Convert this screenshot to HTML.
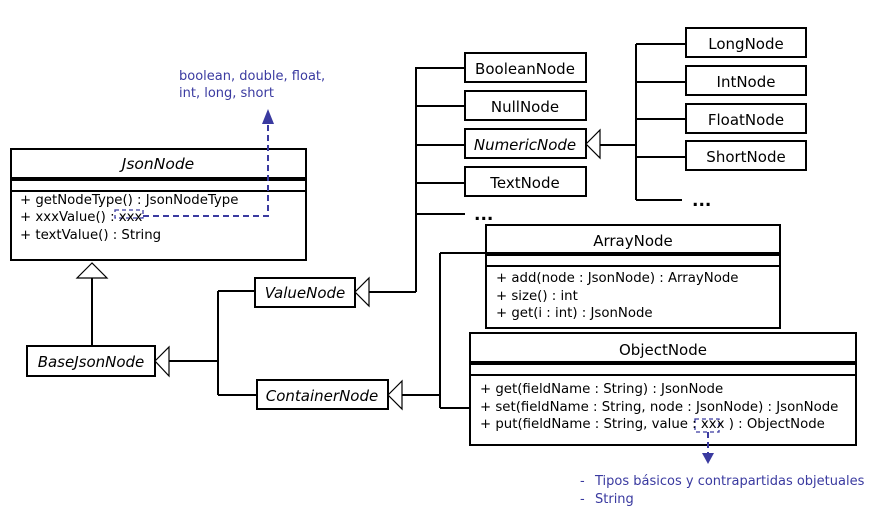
<!DOCTYPE html>
<html><head><meta charset="utf-8"><style>
html,body{margin:0;padding:0;background:#fff;}
svg{display:block;}
text{font-family:"DejaVu Sans","Liberation Sans",sans-serif;font-size:13.3px;fill:#000;}
.c{text-anchor:middle;font-size:15px;}
.i{font-style:italic;}
.b{fill:#3a3aa0;font-size:13px;}
</style></head><body>
<svg width="896" height="517" viewBox="0 0 896 517" xmlns="http://www.w3.org/2000/svg">
<g stroke="#000" stroke-width="2" fill="none">
<rect x="11" y="149" width="295" height="111" fill="#fff"/>
<line x1="11" y1="178" x2="306" y2="178"/><line x1="11" y1="180" x2="306" y2="180"/>
<line x1="11" y1="191" x2="306" y2="191"/>
<rect x="27" y="346" width="128" height="30" fill="#fff"/>
<line x1="92" y1="278" x2="92" y2="346"/>
<rect x="255" y="278" width="100" height="29" fill="#fff"/>
<rect x="257" y="380" width="131" height="29" fill="#fff"/>
<line x1="169" y1="361" x2="218" y2="361"/>
<line x1="218" y1="291" x2="218" y2="395"/>
<line x1="218" y1="291" x2="255" y2="291"/>
<line x1="218" y1="395" x2="257" y2="395"/>
<line x1="369" y1="292" x2="416" y2="292"/>
<line x1="416" y1="67" x2="416" y2="292"/>
<line x1="402" y1="395" x2="440" y2="395"/>
<line x1="440" y1="253" x2="440" y2="408"/>
<line x1="440" y1="253" x2="486" y2="253"/>
<line x1="440" y1="408" x2="470" y2="408"/>
<rect x="465" y="53" width="121" height="29" fill="#fff"/>
<rect x="465" y="91" width="121" height="29" fill="#fff"/>
<rect x="465" y="129" width="121" height="29" fill="#fff"/>
<rect x="465" y="167" width="121" height="29" fill="#fff"/>
<line x1="416" y1="68" x2="465" y2="68"/>
<line x1="416" y1="106" x2="465" y2="106"/>
<line x1="416" y1="145" x2="465" y2="145"/>
<line x1="416" y1="183" x2="465" y2="183"/>
<line x1="416" y1="214" x2="465" y2="214"/>
<line x1="600" y1="145" x2="637" y2="145"/>
<line x1="636" y1="44" x2="636" y2="200"/>
<rect x="686" y="28" width="120" height="29" fill="#fff"/>
<rect x="686" y="66" width="120" height="29" fill="#fff"/>
<rect x="686" y="104" width="120" height="29" fill="#fff"/>
<rect x="686" y="141" width="120" height="29" fill="#fff"/>
<line x1="636" y1="44" x2="686" y2="44"/>
<line x1="636" y1="82" x2="686" y2="82"/>
<line x1="636" y1="119" x2="686" y2="119"/>
<line x1="636" y1="157" x2="686" y2="157"/>
<line x1="636" y1="200" x2="682" y2="200"/>
<rect x="486" y="225" width="294" height="103" fill="#fff"/>
<line x1="486" y1="253" x2="780" y2="253"/><line x1="486" y1="255" x2="780" y2="255"/>
<line x1="486" y1="266" x2="780" y2="266"/>
<rect x="470" y="333" width="386" height="112" fill="#fff"/>
<line x1="470" y1="362" x2="856" y2="362"/><line x1="470" y1="364" x2="856" y2="364"/>
<line x1="470" y1="375" x2="856" y2="375"/>
</g>
<g stroke="#000" stroke-width="1.2" fill="#fff">
<polygon points="92,263 77,278 107,278"/>
<polygon points="155,361 169,347 169,376"/>
<polygon points="355,292 369,278 369,306"/>
<polygon points="388,395 402,381 402,409"/>
<polygon points="586,144 600,130 600,158"/>
</g>
<g stroke="#3a3aa0" stroke-width="2" fill="none" stroke-dasharray="6,4">
<polyline points="143,216 268,216 268,120"/>
<rect x="115" y="210" width="28" height="8" stroke-width="1.3" stroke-dasharray="4,3"/>
<rect x="695" y="419" width="24" height="13" stroke-width="1.3" stroke-dasharray="4,3"/>
<line x1="708" y1="432" x2="708" y2="455"/>
</g>
<polygon points="262,124 274,124 268,109" fill="#3a3aa0"/>
<polygon points="702,453 714,453 708,464" fill="#3a3aa0"/>
<text x="158" y="169" class="c i" style="font-size:15.5px">JsonNode</text>
<text x="20" y="204">+ getNodeType() : JsonNodeType</text>
<text x="20" y="221">+ xxxValue() : xxx</text>
<text x="20" y="239">+ textValue() : String</text>
<text x="91" y="367" class="c i">BaseJsonNode</text>
<text x="305" y="298" class="c i">ValueNode</text>
<text x="322" y="401" class="c i">ContainerNode</text>
<text x="525" y="74" class="c">BooleanNode</text>
<text x="525" y="112" class="c">NullNode</text>
<text x="525" y="150" class="c i">NumericNode</text>
<text x="525" y="188" class="c">TextNode</text>
<text x="474" y="220" style="font-weight:bold;font-size:17px">...</text>
<text x="746" y="49" class="c">LongNode</text>
<text x="746" y="87" class="c">IntNode</text>
<text x="746" y="125" class="c">FloatNode</text>
<text x="746" y="162" class="c">ShortNode</text>
<text x="692" y="206" style="font-weight:bold;font-size:17px">...</text>
<text x="633" y="246" class="c">ArrayNode</text>
<text x="496" y="282">+ add(node : JsonNode) : ArrayNode</text>
<text x="496" y="300">+ size() : int</text>
<text x="496" y="317">+ get(i : int) : JsonNode</text>
<text x="663" y="355" class="c">ObjectNode</text>
<text x="480" y="393">+ get(fieldName : String) : JsonNode</text>
<text x="480" y="411">+ set(fieldName : String, node : JsonNode) : JsonNode</text>
<text x="480" y="428">+ put(fieldName : String, value : xxx ) : ObjectNode</text>
<text x="179" y="80" class="b">boolean, double, float,</text>
<text x="179" y="97" class="b">int, long, short</text>
<text x="580" y="485" class="b">-</text>
<text x="595" y="485" class="b">Tipos básicos y contrapartidas objetuales</text>
<text x="580" y="503" class="b">-</text>
<text x="595" y="503" class="b">String</text>
</svg>
</body></html>
